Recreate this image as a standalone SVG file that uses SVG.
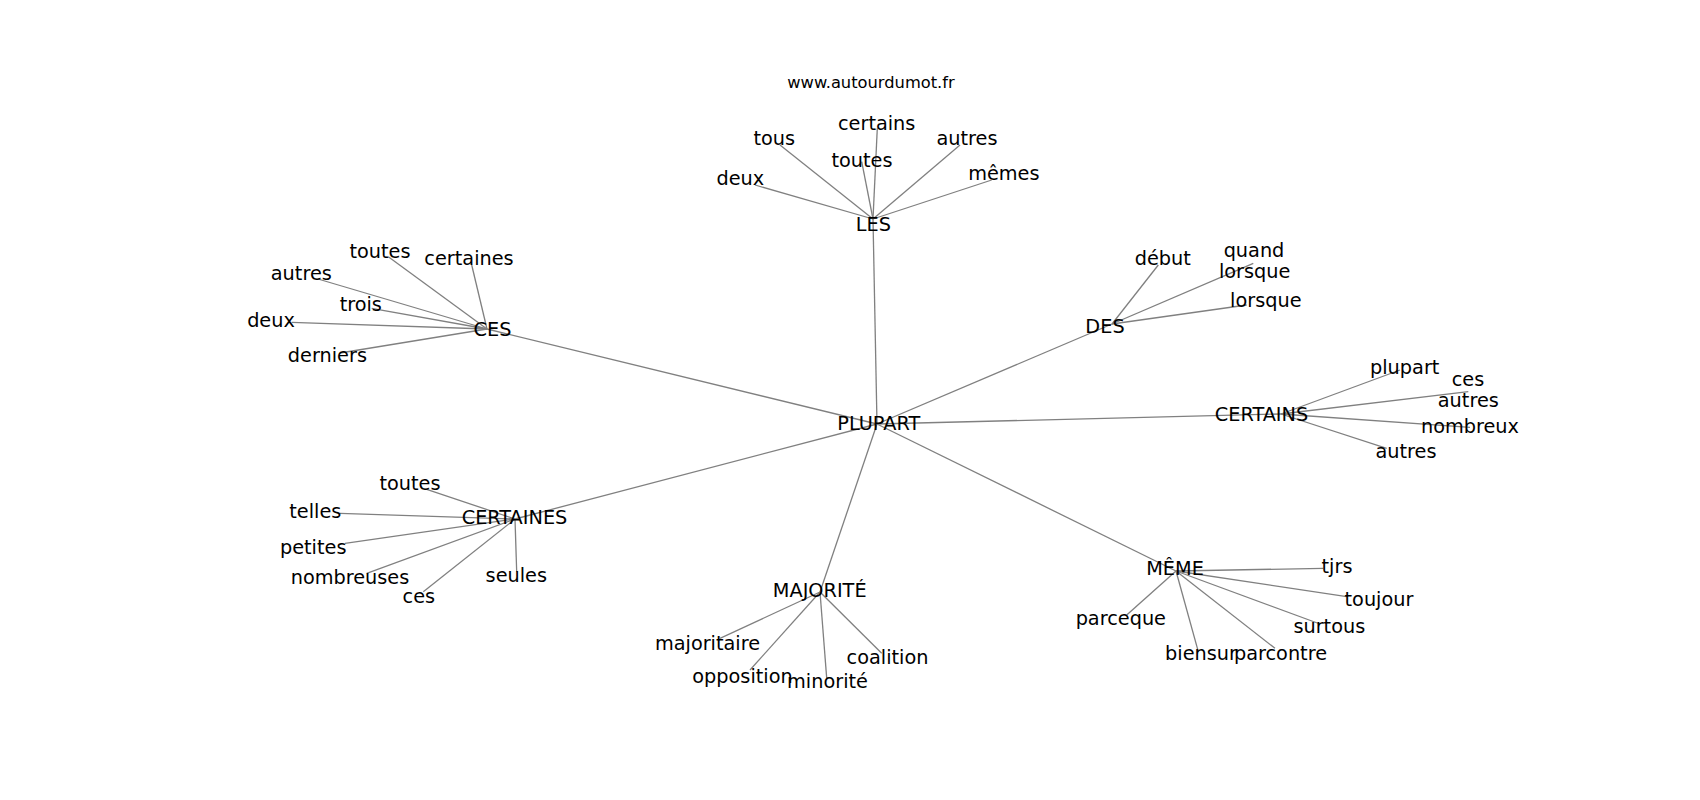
<svg xmlns="http://www.w3.org/2000/svg" width="1700" height="800" viewBox="0 0 1700 800">
<style>
text{font-family:"DejaVu Sans","Liberation Sans",sans-serif;font-size:19.3px;fill:#000;text-anchor:middle}
.title{font-size:16.3px}
#edges line{stroke:#808080;stroke-width:1.3}
</style>
<rect width="1700" height="800" fill="#fff"/>
<g id="edges">
<line x1="877" y1="424" x2="873" y2="219"/>
<line x1="877" y1="424" x2="487" y2="329"/>
<line x1="877" y1="424" x2="1112" y2="324"/>
<line x1="877" y1="424" x2="1281" y2="414"/>
<line x1="877" y1="424" x2="515" y2="519"/>
<line x1="877" y1="424" x2="820" y2="592"/>
<line x1="877" y1="424" x2="1176" y2="571"/>
<line x1="873" y1="219" x2="755" y2="185"/>
<line x1="873" y1="219" x2="780" y2="145"/>
<line x1="873" y1="219" x2="877.3" y2="128.3"/>
<line x1="873" y1="219" x2="861.7" y2="161.7"/>
<line x1="873" y1="219" x2="960" y2="145"/>
<line x1="873" y1="219" x2="991.7" y2="180"/>
<line x1="487" y1="329" x2="388.3" y2="256.7"/>
<line x1="487" y1="329" x2="471.7" y2="265"/>
<line x1="487" y1="329" x2="318" y2="279"/>
<line x1="487" y1="329" x2="371.7" y2="308.3"/>
<line x1="487" y1="329" x2="291.7" y2="322.3"/>
<line x1="487" y1="329" x2="340" y2="353"/>
<line x1="1112" y1="324" x2="1158.3" y2="265"/>
<line x1="1112" y1="324" x2="1253.3" y2="263.3"/>
<line x1="1112" y1="324" x2="1246.7" y2="305"/>
<line x1="1281" y1="414" x2="1400" y2="370"/>
<line x1="1281" y1="414" x2="1468.3" y2="391.7"/>
<line x1="1281" y1="414" x2="1470" y2="427.3"/>
<line x1="1281" y1="414" x2="1386.7" y2="448.3"/>
<line x1="515" y1="519" x2="426.7" y2="489.3"/>
<line x1="515" y1="519" x2="340" y2="513.3"/>
<line x1="515" y1="519" x2="345" y2="543.3"/>
<line x1="515" y1="519" x2="366.7" y2="573.3"/>
<line x1="515" y1="519" x2="423.3" y2="591.7"/>
<line x1="515" y1="519" x2="516.7" y2="571.7"/>
<line x1="820" y1="592" x2="720" y2="638.3"/>
<line x1="820" y1="592" x2="750" y2="670"/>
<line x1="820" y1="592" x2="826.7" y2="678.3"/>
<line x1="820" y1="592" x2="881.7" y2="653.3"/>
<line x1="1176" y1="571" x2="1323.3" y2="568.3"/>
<line x1="1176" y1="571" x2="1346.7" y2="596.7"/>
<line x1="1176" y1="571" x2="1320" y2="624"/>
<line x1="1176" y1="571" x2="1198.3" y2="651.7"/>
<line x1="1176" y1="571" x2="1275" y2="648.3"/>
<line x1="1176" y1="571" x2="1126.7" y2="615"/>
</g>
<text class="title" x="871" y="88">www.autourdumot.fr</text>
<g id="n-plupart"><text x="878.8" y="430">PLUPART</text></g>
<g id="n-les"><text x="873.3" y="230.7">LES</text></g>
<g id="n-ces"><text x="492.5" y="335.7">CES</text></g>
<g id="n-des"><text x="1105" y="333.3">DES</text></g>
<g id="n-certains"><text x="1261.5" y="421">CERTAINS</text></g>
<g id="n-certaines"><text x="514.5" y="524">CERTAINES</text></g>
<g id="n-majorite"><text x="819.7" y="596.7">MAJORITÉ</text></g>
<g id="n-meme"><text x="1175" y="575">MÊME</text></g>
<g id="n-les-deux"><text x="740.3" y="185">deux</text></g>
<g id="n-les-tous"><text x="774.3" y="145">tous</text></g>
<g id="n-les-certains"><text x="876.7" y="130">certains</text></g>
<g id="n-les-toutes"><text x="862" y="167.3">toutes</text></g>
<g id="n-les-autres"><text x="967" y="145">autres</text></g>
<g id="n-les-memes"><text x="1003.8" y="180">mêmes</text></g>
<g id="n-ces-toutes"><text x="380" y="257.7">toutes</text></g>
<g id="n-ces-certaines"><text x="469" y="265">certaines</text></g>
<g id="n-ces-autres"><text x="301.3" y="280">autres</text></g>
<g id="n-ces-trois"><text x="360.8" y="311">trois</text></g>
<g id="n-ces-deux"><text x="271" y="326.7">deux</text></g>
<g id="n-ces-derniers"><text x="327.4" y="362">derniers</text></g>
<g id="n-des-debut"><text x="1162.8" y="265">début</text></g>
<g id="n-des-quand"><text x="1254" y="256.7">quand<tspan x="1254.7" y="277.7">lorsque</tspan></text></g>
<g id="n-des-lorsque"><text x="1265.8" y="306.7">lorsque</text></g>
<g id="n-certains-plupart"><text x="1404.7" y="374">plupart</text></g>
<g id="n-certains-ces"><text x="1468" y="386">ces<tspan x="1468.3" y="407.3">autres</tspan></text></g>
<g id="n-certains-nombreux"><text x="1470" y="433.3">nombreux</text></g>
<g id="n-certains-autres"><text x="1406" y="458.3">autres</text></g>
<g id="n-certaines-toutes"><text x="410" y="490">toutes</text></g>
<g id="n-certaines-telles"><text x="315.3" y="518.3">telles</text></g>
<g id="n-certaines-petites"><text x="313.2" y="554">petites</text></g>
<g id="n-certaines-nombreuses"><text x="350" y="584.3">nombreuses</text></g>
<g id="n-certaines-ces"><text x="418.8" y="603.3">ces</text></g>
<g id="n-certaines-seules"><text x="516.3" y="581.7">seules</text></g>
<g id="n-maj-majoritaire"><text x="707.5" y="650">majoritaire</text></g>
<g id="n-maj-opposition"><text x="742.5" y="683.3">opposition</text></g>
<g id="n-maj-minorite"><text x="827.5" y="688.3">minorité</text></g>
<g id="n-maj-coalition"><text x="887.5" y="664">coalition</text></g>
<g id="n-meme-tjrs"><text x="1337" y="573.3">tjrs</text></g>
<g id="n-meme-toujour"><text x="1379" y="606">toujour</text></g>
<g id="n-meme-surtous"><text x="1329.3" y="633.3">surtous</text></g>
<g id="n-meme-biensur"><text x="1201" y="660">biensur</text></g>
<g id="n-meme-parcontre"><text x="1280.5" y="660">parcontre</text></g>
<g id="n-meme-parceque"><text x="1120.8" y="625">parceque</text></g>
</svg>
